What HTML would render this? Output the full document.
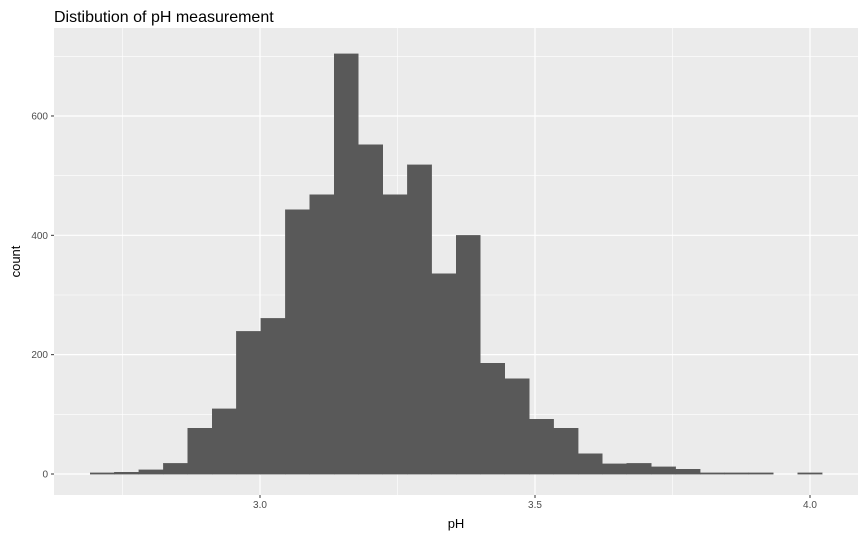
<!DOCTYPE html>
<html><head><meta charset="utf-8"><style>body{margin:0;background:#fff}svg{display:block;font-family:"Liberation Sans",sans-serif}</style></head>
<body>
<svg id="c" width="866" height="540"></svg>
<script>
const counts=[2,3,7,18,77,109,239,261,443,468,704,552,468,518,336,400,186,160,92,77,34,17,18,12,8,2,2,2,0,2];
const binMin=2.691, binMax=4.022;
const xTicks=[3.0,3.5,4.0];
const xTickLabels=["3.0","3.5","4.0"];
const yTicks=[0,200,400,600];
const yTickLabels=["0","200","400","600"];
const NS="http://www.w3.org/2000/svg",svg=document.getElementById('c');
const L=54,R=858,T=28,B=495;
const x=v=>260+(v-3)*550;
const y=v=>474-v*0.5967;
function mk(t,a,p){const e=document.createElementNS(NS,t);for(const k in a)e.setAttribute(k,a[k]);(p||svg).appendChild(e);return e;}
const panel=mk('rect',{x:L,y:T,width:R-L,height:B-T,fill:'#ebebeb'});


for(let i=0;i<xTicks.length+1;i++){const v=2.75+i*0.5;const px=x(v);if(px>L&&px<R){const g=mk('line',{x1:px,x2:px,y1:T,y2:B,stroke:'#fff','stroke-width':0.6});}}
for(let i=0;i<yTicks.length;i++){const v=100+i*200;const py=y(v);if(py>T){const g=mk('line',{x1:L,x2:R,y1:py,y2:py,stroke:'#fff','stroke-width':0.6});}}
xTicks.forEach((v,i)=>{const g=mk('line',{x1:x(v),x2:x(v),y1:T,y2:B,stroke:'#fff','stroke-width':1.2});
const tk=mk('line',{x1:x(v),x2:x(v),y1:B,y2:B+3,stroke:'#333'});
const t=mk('text',{x:x(v),y:B+13,'text-anchor':'middle','font-size':10,fill:'#4d4d4d'});t.textContent=xTickLabels[i];});
yTicks.forEach((v,i)=>{const g=mk('line',{x1:L,x2:R,y1:y(v),y2:y(v),stroke:'#fff','stroke-width':1.2});
const tk=mk('line',{x1:L-3,x2:L,y1:y(v),y2:y(v),stroke:'#333'});
const t=mk('text',{x:L-6,y:y(v)+3.5,'text-anchor':'end','font-size':10,fill:'#4d4d4d'});t.textContent=yTickLabels[i];});
const w=(binMax-binMin)/counts.length;
counts.forEach((c,i)=>{const x0=x(binMin+i*w),x1=x(binMin+(i+1)*w);const r=mk('rect',{x:x0,y:y(c),width:x1-x0,height:y(0)-y(c),fill:'#595959',stroke:'#595959','stroke-width':0.4,'shape-rendering':'crispEdges'});});
const tt=mk('text',{x:54,y:22,'font-size':16,fill:'#000'});tt.textContent='Distibution of pH measurement';
const xt=mk('text',{x:(L+R)/2,y:528,'text-anchor':'middle','font-size':13,fill:'#000'});xt.textContent='pH';
const yt=mk('text',{x:0,y:0,'text-anchor':'middle','font-size':13,fill:'#000',transform:`translate(20,${(T+B)/2}) rotate(-90)`});yt.textContent='count';
</script>
</body></html>
